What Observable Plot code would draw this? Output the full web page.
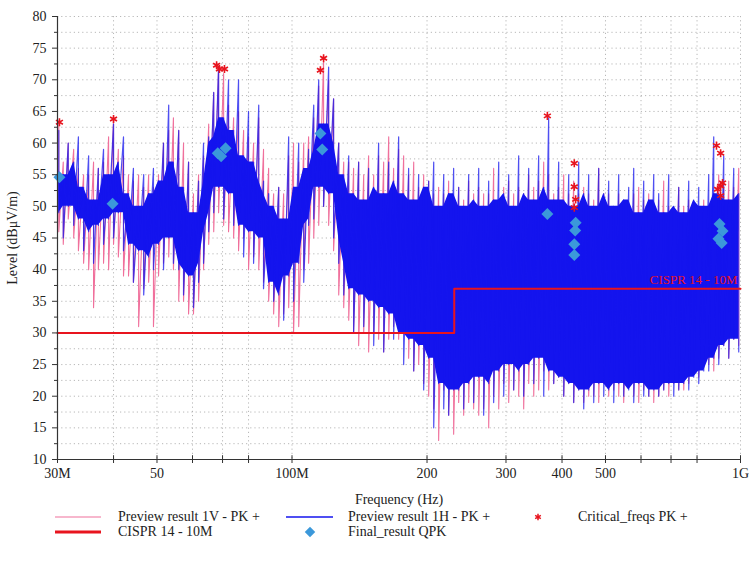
<!DOCTYPE html>
<html><head><meta charset="utf-8">
<script src="https://cdn.jsdelivr.net/npm/d3@7"></script>
<script src="https://cdn.jsdelivr.net/npm/@observablehq/plot@0.6"></script>
<style>
body{margin:0;background:#fff;font-family:"Liberation Serif","DejaVu Serif","Times New Roman",serif;}
#wrap{position:relative;width:749px;height:567px;overflow:hidden;}
.lg{position:absolute;font-size:14px;line-height:16px;color:#222;white-space:nowrap;}
.sw{position:absolute;}
</style></head><body><div id="wrap"><div id="chart"></div></div>
<script>
// Frequencies of the sweep (MHz)
const freqMHz = [30.2,30.9,31.7,32.6,33.4,34.3,35.2,36.1,37.0,38.0,
39.0,40.0,41.0,42.1,43.2,44.3,45.5,46.7,47.9,49.1,
50.4,51.7,53.1,54.4,55.9,57.3,58.8,60.3,61.9,63.5,
65.2,66.9,68.6,70.4,72.2,74.1,76.0,78.0,80.0,82.1,
84.3,86.4,88.7,91.0,93.4,95.8,98.3,100.8,103.5,106.2,
108.9,111.8,114.7,117.6,120.7,123.8,127.1,130.4,133.8,137.2,
140.8,144.5,148.2,152.1,156.0,160.1,164.3,168.5,172.9,177.4,
182.0,186.8,191.6,196.6,201.7,207.0,212.3,217.9,223.5,229.3,
235.3,241.4,247.7,254.1,260.8,267.5,274.5,281.6,289.0,296.5,
304.2,312.1,320.2,328.5,337.1,345.9,354.8,364.1,373.5,383.3,
393.2,403.5,414.0,424.7,435.8,447.1,458.7,470.7,482.9,495.5,
508.3,521.6,535.1,549.0,563.3,578.0,593.0,608.4,624.3,640.5,
657.1,674.2,691.8,709.8,728.2,747.2,766.6,786.5,807.0,828.0,
849.5,871.6,894.3,917.5,941.4,965.9,991.0];
// Preview result 1H - PK+ : peak highs / lows (dBµV/m)
const hHigh = [62,55,60,57,61,53,58,51,56,59,
55,63,57,61,52,56,50,55,52,56,
54,60,66,57,62,53,57,49,54,60,
61,68,72,64,70,62,70,58,65,57,
66,54,52,50,53,48,61,53,60,56,
59,66,70,63,72,67,60,55,58,52,
57,51,56,53,60,52,57,54,61,52,
56,51,55,53,54,57,50,55,52,56,
53,50,55,51,56,50,54,51,57,52,
55,50,58,52,56,51,58,53,64,51,
57,51,55,50,57,52,55,50,56,52,
54,50,55,51,53,56,49,54,51,55,
52,49,55,50,53,49,54,51,53,50,
55,61,52,58,51,56,52];
const hLow = [49,45,50,47,48,43,46,41,47,44,
48,45,49,43,44,38,43,36,42,40,
44,40,45,41,40,36,39,34,38,41,
46,49,53,48,52,47,47,42,46,41,
45,37,38,35,36,32,39,35,41,38,
47,48,53,50,52,45,41,36,37,30,
36,31,35,28,34,27,33,29,30,25,
29,24,28,21,26,15,22,18,17,21,
21,18,22,19,23,17,22,19,24,20,
25,21,24,20,25,22,26,20,24,22,
23,20,22,19,21,18,21,19,22,20,
21,19,22,20,21,19,22,20,20,21,
20,21,22,20,21,22,21,23,22,24,
24,26,25,28,26,29,27];
// Preview result 1V - PK+ : peak highs / lows (dBµV/m)
const vHigh = [63,57,60,59,56,55,55,57,56,57,
61,64,59,58,55,54,55,53,55,53,
55,60,62,64,62,60,57,52,55,58,
63,68,72,71,66,64,65,62,61,60,
64,59,56,52,53,52,58,60,57,60,
61,64,69,73,70,67,60,57,57,56,
57,55,58,55,58,57,61,56,59,58,
55,57,53,55,54,52,53,52,54,51,
53,51,54,52,53,52,52,56,51,53,
54,52,53,52,55,53,54,57,55,52,
53,55,52,54,52,53,52,51,56,52,
52,50,52,51,50,52,53,51,52,50,
51,54,50,49,53,50,51,49,50,51,
50,52,55,53,54,53,56];
const vLow = [46,44,48,45,43,41,40,34,40,41,
40,44,42,39,39,38,31,37,38,31,
39,41,42,40,35,35,33,33,35,40,
44,46,49,47,46,45,43,45,40,42,
40,38,35,33,31,33,34,30,31,40,
41,45,47,50,47,43,36,34,32,30,
28,30,27,30,29,27,29,31,29,30,
26,24,25,22,20,18,13,21,17,14,
19,17,19,18,17,18,15,20,18,22,
19,21,20,18,22,20,21,24,21,22,
23,20,22,19,21,19,20,20,19,22,
20,21,20,19,22,20,19,21,20,19,
20,21,20,22,21,21,22,24,23,25,
25,24,26,28,26,29,28];
// CISPR 14 - 10M limit
const limitFreq = [30, 230, 1000];
const limitLevel = [30, 37, 37];
// Critical_freqs PK+
const critFreq = [30.3, 40.0, 67.9, 68.9, 70.7, 115.7, 117.6, 371, 426, 426, 429, 426, 884, 903, 912, 903, 889, 903];
const critLevel = [63.3, 63.8, 72.3, 71.7, 71.7, 71.5, 73.4, 64.3, 56.8, 53.1, 51.1, 49.8, 59.6, 58.4, 53.7, 53.2, 52.7, 51.7];
// Final_result QPK
const qpkFreq = [30.3, 39.8, 68.3, 69.5, 71.1, 115.7, 116.8, 371, 429, 428, 426, 426, 898, 912, 893, 908];
const qpkLevel = [54.6, 50.4, 58.4, 57.9, 59.2, 61.5, 59.0, 48.8, 47.4, 46.2, 44.0, 42.3, 47.2, 46.1, 44.9, 44.2];
// Axis ticks
const xTicks = [30,40,50,60,70,80,100,200,300,400,500,600,700,800,1000];
const xTickLabels = ["30M","","50","60","","80","100M","200","300","400","500","","","800","1G"];
const yTicks = [10,15,20,25,30,35,40,45,50,55,60,65,70,75,80];
const yMinorTicks = [12.5,17.5,22.5,27.5,32.5,37.5,42.5,47.5,52.5,57.5,62.5,67.5,72.5,77.5];

const PINK = "#f0709c", BLUE = "#1414ee", RED = "#e8141e", DIAM = "#3b98da";
const FONT = "'Liberation Serif', 'DejaVu Serif', 'Times New Roman', serif";

function zig(hi, lo) {
  const out = [];
  freqMHz.forEach((f, i) => { out.push({f, v: hi[i]}); out.push({f, v: lo[i]}); });
  return out;
}
const vTrace = zig(vHigh, vLow);
const hTrace = zig(hHigh, hLow);
const hCore = freqMHz.map((f, i) => {
  const a = Math.max(0, i - 1), b = Math.min(freqMHz.length, i + 2);
  return {f, lo: d3.max(hLow.slice(a, b)), hi: d3.min(hHigh.slice(a, b))};
});
const limit = limitFreq.map((f, i) => ({f, v: limitLevel[i]}));
const crit = critFreq.map((f, i) => ({f, v: critLevel[i]}));
const qpk = qpkFreq.map((f, i) => ({f, v: qpkLevel[i]}));

const chart = Plot.plot({
  width: 749, height: 508,
  marginLeft: 57, marginRight: 9, marginTop: 16, marginBottom: 49,
  x: {type: "log", domain: [30, 1000]},
  y: {domain: [10, 80]},
  style: {fontFamily: FONT, fontSize: "14px", color: "#222", background: "white"},
  marks: [
    Plot.gridY([...yTicks.slice(1), ...yMinorTicks], {stroke: "#9a9a9a", strokeOpacity: 0.7, strokeDasharray: "1.2,3"}),
    Plot.gridX(xTicks.slice(1), {stroke: "#9a9a9a", strokeOpacity: 0.7, strokeDasharray: "1.2,3"}),
    Plot.line(vTrace, {x: "f", y: "v", stroke: PINK, strokeWidth: 1.1}),
    Plot.areaY(hCore, {x: "f", y1: "lo", y2: "hi", fill: BLUE}),
    Plot.line(hTrace, {x: "f", y: "v", stroke: BLUE, strokeWidth: 1.2, strokeOpacity: 0.75}),
    Plot.line(limit, {x: "f", y: "v", stroke: RED, strokeWidth: 2, curve: "step-after"}),
    Plot.text(["CISPR 14 - 10M"], {x: () => 1000, y: () => limitLevel[2], text: d => d, textAnchor: "end", dx: -3, dy: -9, fill: RED, fontSize: 13}),
    Plot.dot(crit, {x: "f", y: "v", symbol: "asterisk", r: 3.8, stroke: RED, strokeWidth: 1.6}),
    Plot.dot(qpk, {x: "f", y: "v", symbol: "diamond2", r: 5.4, fill: DIAM, stroke: "none"}),
    Plot.ruleY([10], {stroke: "#333", strokeWidth: 1.2}),
    Plot.ruleX([30], {stroke: "#333", strokeWidth: 1.2}),
    Plot.axisX({ticks: xTicks, tickFormat: d => xTickLabels[xTicks.indexOf(d)], tickSize: 4, tickPadding: 5, stroke: "#333",
      label: "Frequency (Hz)", labelAnchor: "center", labelArrow: "none", labelOffset: 44}),
    Plot.ruleX(xTicks, {x: d => d, y1: 10, y2: 10.6, stroke: "#333"}),
    Plot.axisY({ticks: yTicks, tickSize: 5, tickPadding: 6, stroke: "#333",
      label: "Level (dBμV/m)", labelAnchor: "center", labelArrow: "none", labelOffset: 50}),
    Plot.axisY({ticks: yMinorTicks, tickSize: 3, tickFormat: () => "", label: null, stroke: "#333"})
  ]
});
document.getElementById("chart").appendChild(chart);

// Legend
const wrap = document.getElementById("wrap");
const legendItems = [
  {row: 0, sx: 55, sw: 46, kind: "line", color: PINK, w: 1.2, tx: 118, text: "Preview result 1V - PK +"},
  {row: 0, sx: 286, sw: 47, kind: "line", color: BLUE, w: 1.5, tx: 348, text: "Preview result 1H - PK +"},
  {row: 0, sx: 538, kind: "star", color: RED, tx: 578, text: "Critical_freqs PK +"},
  {row: 1, sx: 55, sw: 46, kind: "line", color: RED, w: 3, tx: 118, text: "CISPR 14 - 10M"},
  {row: 1, sx: 310, kind: "diamond", color: DIAM, tx: 348, text: "Final_result QPK"}
];
const rowY = [517, 532];
legendItems.forEach(it => {
  const cy = rowY[it.row];
  const t = document.createElement("div");
  t.className = "lg"; t.textContent = it.text;
  t.style.left = it.tx + "px"; t.style.top = (cy - 8) + "px";
  wrap.appendChild(t);
  const ns = "http://www.w3.org/2000/svg";
  const s = document.createElementNS(ns, "svg");
  s.setAttribute("class", "sw");
  if (it.kind === "line") {
    s.setAttribute("width", it.sw); s.setAttribute("height", 6);
    s.style.left = it.sx + "px"; s.style.top = (cy - 3) + "px";
    const l = document.createElementNS(ns, "line");
    l.setAttribute("x1", 0); l.setAttribute("x2", it.sw); l.setAttribute("y1", 3); l.setAttribute("y2", 3);
    l.setAttribute("stroke", it.color); l.setAttribute("stroke-width", it.w);
    s.appendChild(l);
  } else {
    s.setAttribute("width", 14); s.setAttribute("height", 14);
    s.style.left = (it.sx - 7) + "px"; s.style.top = (cy - 7) + "px";
    const p = document.createElementNS(ns, "path");
    if (it.kind === "star") {
      p.setAttribute("d", d3.symbol(d3.symbolAsterisk, 30)());
      p.setAttribute("stroke", it.color); p.setAttribute("stroke-width", 1.5); p.setAttribute("fill", "none");
    } else {
      p.setAttribute("d", d3.symbol(d3.symbolDiamond2, 70)());
      p.setAttribute("fill", it.color);
    }
    p.setAttribute("transform", "translate(7,7)");
    s.appendChild(p);
  }
  wrap.appendChild(s);
});
</script></body></html>
